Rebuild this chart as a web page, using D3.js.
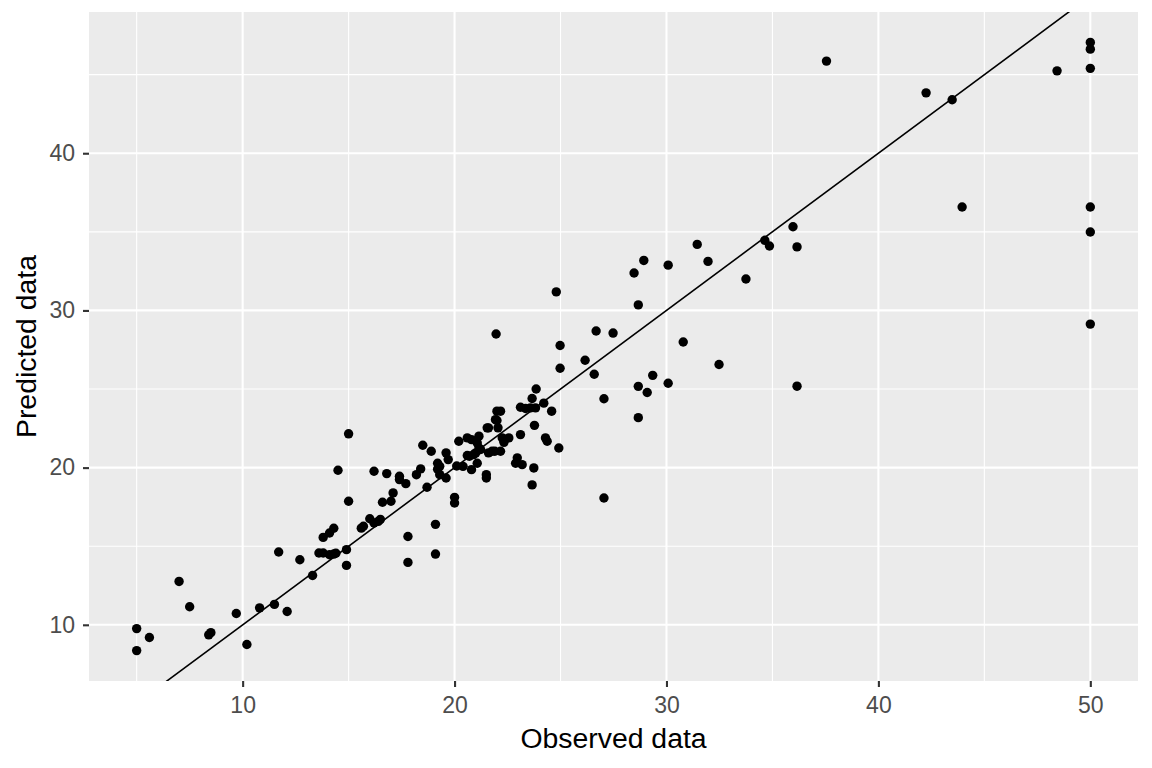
<!DOCTYPE html>
<html><head><meta charset="utf-8">
<script src="https://cdn.jsdelivr.net/npm/d3@7/dist/d3.min.js"></script>
<style>body{margin:0;background:#fff;} svg{display:block;}</style>
</head><body>
<svg id="c" width="1152" height="768"></svg>
<script>
const observed = [5.0,5.0,5.6,7.0,7.5,8.4,8.5,9.7,10.2,10.8,11.5,11.7,12.1,12.7,13.3,13.8,14.1,13.6,13.8,14.1,14.3,14.4,14.3,14.9,14.9,15.0,14.5,15.0,15.6,15.7,16.0,16.2,16.4,16.5,16.2,16.6,17.0,17.1,16.8,17.4,17.4,17.7,17.8,17.8,18.2,18.4,18.5,18.9,18.7,19.1,19.1,19.2,19.3,19.3,19.6,19.6,19.7,20.1,20.0,20.0,20.4,20.2,20.6,20.8,21.15,20.8,21.07,21.15,21.0,20.7,21.07,21.5,21.5,21.6,22.0,22.05,22.17,21.9,22.17,21.6,22.25,22.33,22.56,23.11,22.96,22.88,23.19,23.74,23.66,23.77,23.66,23.85,23.58,23.82,23.11,23.35,24.21,24.58,24.29,24.37,24.92,19.2,20.6,20.9,21.23,21.54,21.93,22.0,21.77,
  24.8,21.96,24.98,24.98,26.16,26.59,26.68,27.48,27.05,27.05,28.47,28.93,28.67,28.67,28.67,29.09,29.35,30.08,30.08,30.79,31.45,31.96,32.48,33.75,34.64,34.86,35.97,36.16,36.16,37.55,42.25,43.48,43.95,48.43,50,50,50,50,50,50];
const predicted = [9.76,8.36,9.19,12.76,11.15,9.36,9.5,10.72,8.75,11.08,11.3,14.63,10.85,14.14,13.14,15.56,15.84,14.57,14.57,14.46,14.5,14.55,16.14,14.78,13.78,22.15,19.83,17.86,16.15,16.27,16.75,16.48,16.58,16.71,19.77,17.8,17.86,18.39,19.62,19.45,19.24,18.98,15.62,13.97,19.55,19.92,21.42,21.04,18.75,16.39,14.5,20.28,20.08,19.55,19.34,20.94,20.51,20.1,18.11,17.75,20.08,21.68,21.89,21.78,22.0,19.87,21.57,21.25,20.94,20.72,20.28,19.55,19.34,22.53,23.0,22.53,23.59,21.04,21.04,20.94,21.89,21.61,21.89,22.1,20.62,20.28,20.19,19.98,18.9,22.69,24.4,25.0,23.8,23.8,23.84,23.76,24.1,23.59,21.89,21.68,21.25,19.9,20.77,20.83,21.15,22.53,23.05,23.59,21.04,
  31.18,28.5,27.77,26.32,26.83,25.94,28.69,28.56,24.38,18.07,32.38,33.18,30.35,25.17,23.18,24.78,25.87,32.88,25.37,27.99,34.2,33.12,26.56,32.0,34.46,34.1,35.32,34.04,25.18,45.86,43.84,43.4,36.58,45.24,47.05,46.62,45.4,36.58,34.99,29.13];
const xTicks = [10,20,30,40,50];
const yTicks = [10,20,30,40];
const xMinor = [5,15,25,35,45];
const yMinor = [15,25,35,45];

const FONT = "Arial, 'Liberation Sans', sans-serif";
const svg = d3.select("#c");
const L = 89, R = 1138, T = 12, B = 681;
const xr = d3.extent(observed), yr = d3.extent(predicted);
const xe = (xr[1]-xr[0])*0.05, ye = (yr[1]-yr[0])*0.05;
const x = d3.scaleLinear().domain([xr[0]-xe, xr[1]+xe]).range([L, R]);
const y = d3.scaleLinear().domain([yr[0]-ye, yr[1]+ye]).range([B, T]);

svg.append("rect").attr("x", L).attr("y", T).attr("width", R-L).attr("height", B-T).attr("fill", "#EBEBEB");
const g = svg.append("g");
g.selectAll(".xm").data(xMinor).join("line").attr("x1", d=>x(d)).attr("x2", d=>x(d)).attr("y1", T).attr("y2", B).attr("stroke", "#fff").attr("stroke-width", 1.1);
g.selectAll(".ym").data(yMinor).join("line").attr("y1", d=>y(d)).attr("y2", d=>y(d)).attr("x1", L).attr("x2", R).attr("stroke", "#fff").attr("stroke-width", 1.1);
g.selectAll(".xM").data(xTicks).join("line").attr("x1", d=>x(d)).attr("x2", d=>x(d)).attr("y1", T).attr("y2", B).attr("stroke", "#fff").attr("stroke-width", 2.1);
g.selectAll(".yM").data(yTicks).join("line").attr("y1", d=>y(d)).attr("y2", d=>y(d)).attr("x1", L).attr("x2", R).attr("stroke", "#fff").attr("stroke-width", 2.1);

svg.append("clipPath").attr("id", "clip").append("rect").attr("x", L).attr("y", T).attr("width", R-L).attr("height", B-T);

svg.append("g").selectAll("circle").data(observed.map((o,i)=>[o, predicted[i]])).join("circle")
  .attr("cx", d=>x(d[0])).attr("cy", d=>y(d[1])).attr("r", 4.7).attr("fill", "#000");

svg.append("line").attr("clip-path", "url(#clip)")
  .attr("x1", x(0)).attr("y1", y(0)).attr("x2", x(60)).attr("y2", y(60))
  .attr("stroke", "#000").attr("stroke-width", 1.6);

const xAxis = d3.axisBottom(x).tickValues(xTicks).tickSize(6).tickPadding(10);
const ax = svg.append("g").attr("transform", `translate(0,${B})`).call(xAxis);
const yAxis = d3.axisLeft(y).tickValues(yTicks).tickSize(6).tickPadding(8);
const ay = svg.append("g").attr("transform", `translate(${L},0)`).call(yAxis);
[ax, ay].forEach(a => {
  a.select(".domain").remove();
  a.selectAll(".tick line").attr("stroke", "#333333").attr("stroke-width", 2.1);
  a.selectAll(".tick text").attr("fill", "#4D4D4D").style("font-family", FONT).style("font-size", "23px");
});

svg.append("text").attr("x", (L+R)/2).attr("y", 748).attr("text-anchor", "middle")
  .style("font-family", FONT).style("font-size", "28.4px").attr("fill", "#000").text("Observed data");
svg.append("text").attr("transform", `translate(36,${(T+B)/2}) rotate(-90)`).attr("text-anchor", "middle")
  .style("font-family", FONT).style("font-size", "28.4px").attr("fill", "#000").text("Predicted data");
</script>
</body></html>
